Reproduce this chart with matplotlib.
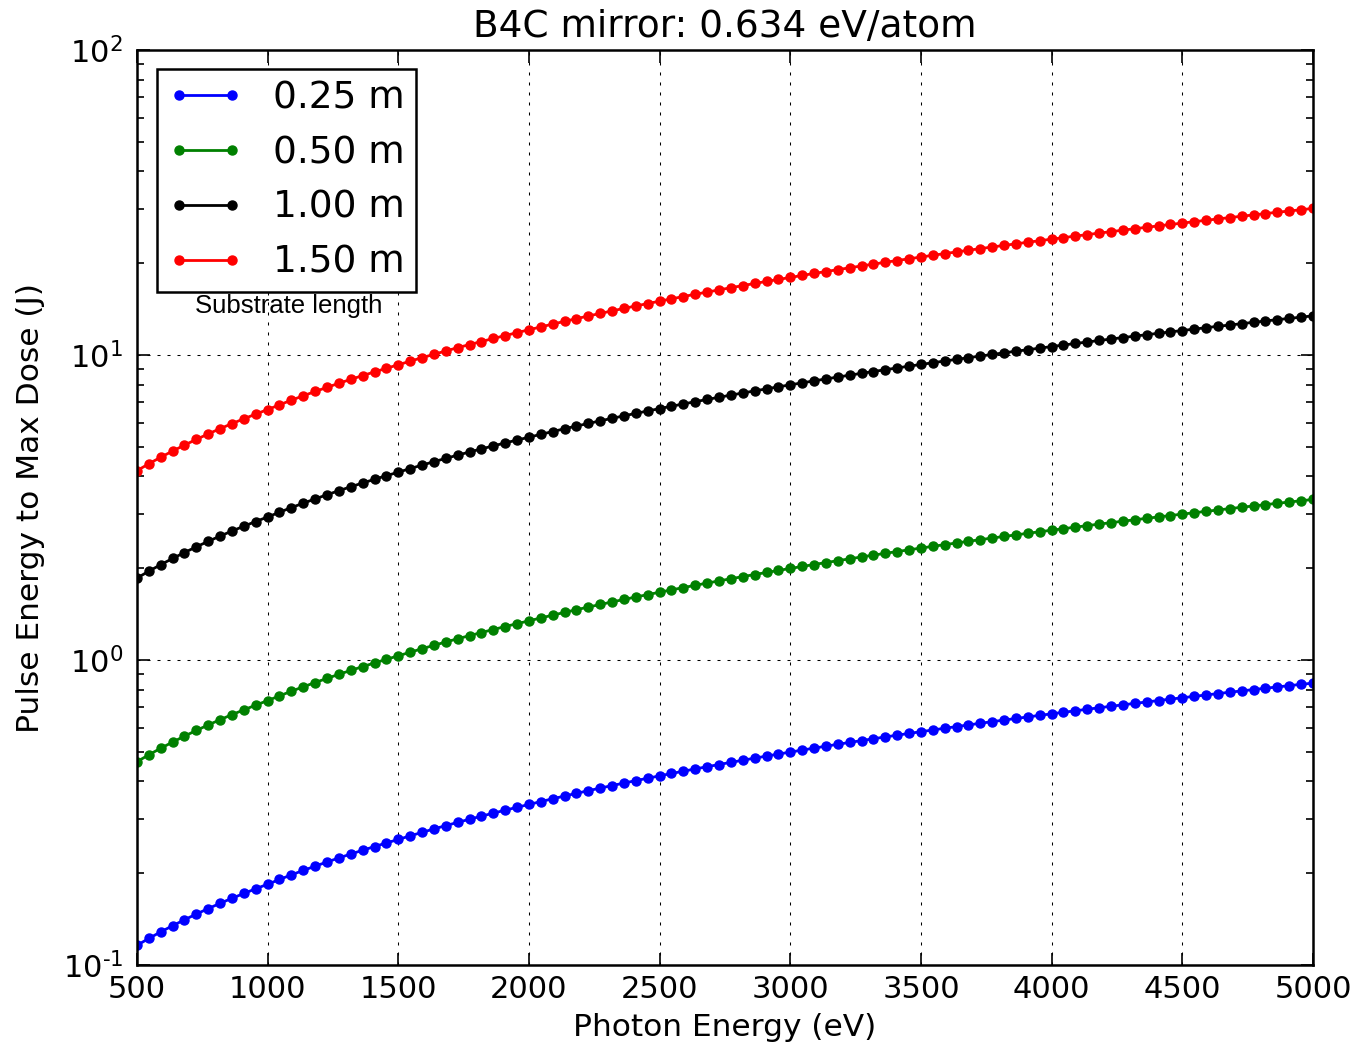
import numpy as np
import matplotlib
matplotlib.use("Agg")
import matplotlib.pyplot as plt
from matplotlib.ticker import FuncFormatter

plt.rcParams['font.family'] = ['DejaVu Sans']
plt.rcParams['mathtext.default'] = 'regular'
plt.rcParams['axes.unicode_minus'] = False

# photon energy grid (eV), 100 samples from 500 to 5000
energy = np.linspace(500, 5000, 100)

# pulse energy to reach max dose (J) for each substrate length
pulse_025 = [
    0.1160, 0.1222, 0.1284, 0.1345, 0.1407, 0.1469, 0.1531, 0.1593, 0.1655, 0.1716,
    0.1778, 0.1840, 0.1907, 0.1975, 0.2042, 0.2109, 0.2176, 0.2244, 0.2311, 0.2378,
    0.2445, 0.2513, 0.2580, 0.2651, 0.2722, 0.2793, 0.2864, 0.2935, 0.3005, 0.3076,
    0.3147, 0.3218, 0.3289, 0.3360, 0.3434, 0.3507, 0.3581, 0.3655, 0.3728, 0.3802,
    0.3875, 0.3949, 0.4023, 0.4096, 0.4170, 0.4245, 0.4319, 0.4394, 0.4468, 0.4543,
    0.4617, 0.4692, 0.4766, 0.4841, 0.4915, 0.4990, 0.5065, 0.5141, 0.5216, 0.5292,
    0.5367, 0.5443, 0.5518, 0.5594, 0.5669, 0.5745, 0.5820, 0.5896, 0.5973, 0.6049,
    0.6125, 0.6202, 0.6278, 0.6355, 0.6431, 0.6507, 0.6584, 0.6660, 0.6738, 0.6816,
    0.6895, 0.6973, 0.7051, 0.7129, 0.7207, 0.7285, 0.7364, 0.7442, 0.7520, 0.7600,
    0.7680, 0.7760, 0.7840, 0.7920, 0.8000, 0.8080, 0.8160, 0.8240, 0.8320, 0.8400]

pulse_050 = [
    0.4640, 0.4888, 0.5136, 0.5380, 0.5628, 0.5876, 0.6124, 0.6372, 0.6620, 0.6864,
    0.7112, 0.7360, 0.7628, 0.7900, 0.8168, 0.8436, 0.8704, 0.8976, 0.9244, 0.9512,
    0.9780, 1.0052, 1.0320, 1.0604, 1.0888, 1.1172, 1.1456, 1.1740, 1.2020, 1.2304,
    1.2588, 1.2872, 1.3156, 1.3440, 1.3736, 1.4028, 1.4324, 1.4620, 1.4912, 1.5208,
    1.5500, 1.5796, 1.6092, 1.6384, 1.6680, 1.6980, 1.7276, 1.7576, 1.7872, 1.8172,
    1.8468, 1.8768, 1.9064, 1.9364, 1.9660, 1.9960, 2.0260, 2.0564, 2.0864, 2.1168,
    2.1468, 2.1772, 2.2072, 2.2376, 2.2676, 2.2980, 2.3280, 2.3584, 2.3892, 2.4196,
    2.4500, 2.4808, 2.5112, 2.5420, 2.5724, 2.6028, 2.6336, 2.6640, 2.6952, 2.7264,
    2.7580, 2.7892, 2.8204, 2.8516, 2.8828, 2.9140, 2.9456, 2.9768, 3.0080, 3.0400,
    3.0720, 3.1040, 3.1360, 3.1680, 3.2000, 3.2320, 3.2640, 3.2960, 3.3280, 3.3600]

pulse_100 = [
    1.856, 1.955, 2.054, 2.152, 2.251, 2.350, 2.450, 2.549, 2.648, 2.746,
    2.845, 2.944, 3.051, 3.160, 3.267, 3.374, 3.482, 3.590, 3.698, 3.805,
    3.912, 4.021, 4.128, 4.242, 4.355, 4.469, 4.582, 4.696, 4.808, 4.922,
    5.035, 5.149, 5.262, 5.376, 5.494, 5.611, 5.730, 5.848, 5.965, 6.083,
    6.200, 6.318, 6.437, 6.554, 6.672, 6.792, 6.910, 7.030, 7.149, 7.269,
    7.387, 7.507, 7.626, 7.746, 7.864, 7.984, 8.104, 8.226, 8.346, 8.467,
    8.587, 8.709, 8.829, 8.950, 9.070, 9.192, 9.312, 9.434, 9.557, 9.678,
    9.800, 9.923, 10.04, 10.17, 10.29, 10.41, 10.53, 10.66, 10.78, 10.91,
    11.03, 11.16, 11.28, 11.41, 11.53, 11.66, 11.78, 11.91, 12.03, 12.16,
    12.29, 12.42, 12.54, 12.67, 12.80, 12.93, 13.06, 13.18, 13.31, 13.44]

pulse_150 = [
    4.176, 4.399, 4.622, 4.842, 5.065, 5.288, 5.512, 5.735, 5.958, 6.178,
    6.401, 6.624, 6.865, 7.110, 7.351, 7.592, 7.834, 8.078, 8.320, 8.561,
    8.802, 9.047, 9.288, 9.544, 9.799, 10.05, 10.31, 10.57, 10.82, 11.07,
    11.33, 11.58, 11.84, 12.10, 12.36, 12.63, 12.89, 13.16, 13.42, 13.69,
    13.95, 14.22, 14.48, 14.75, 15.01, 15.28, 15.55, 15.82, 16.08, 16.35,
    16.62, 16.89, 17.16, 17.43, 17.69, 17.96, 18.23, 18.51, 18.78, 19.05,
    19.32, 19.59, 19.86, 20.14, 20.41, 20.68, 20.95, 21.23, 21.50, 21.78,
    22.05, 22.33, 22.60, 22.88, 23.15, 23.43, 23.70, 23.98, 24.26, 24.54,
    24.82, 25.10, 25.38, 25.66, 25.95, 26.23, 26.51, 26.79, 27.07, 27.36,
    27.65, 27.94, 28.22, 28.51, 28.80, 29.09, 29.38, 29.66, 29.95, 30.24]

lengths = ['0.25 m', '0.50 m', '1.00 m', '1.50 m']
colors = ['b', 'g', 'k', 'r']
series = [pulse_025, pulse_050, pulse_100, pulse_150]

fig = plt.figure(figsize=(13.6, 10.42), dpi=100)
ax = fig.add_axes([0.1007, 0.0739, 0.8647, 0.8781])

for vals, lab, c in zip(series, lengths, colors):
    ax.semilogy(energy, vals, '-o', color=c, lw=2, ms=6.5, mec=c, label=lab)

ax.set_xlim(500, 5000)
ax.set_ylim(0.1, 100)
ax.set_xticks(np.arange(500, 5001, 500))


def decade(v, pos):
    # plain hyphen in the exponent, old-style
    return r'$10^{\text{%d}}$' % int(round(np.log10(v)))


ax.yaxis.set_major_formatter(FuncFormatter(decade))
ax.grid(True, which='major', color='k', linestyle=(0, (2.9, 6.7)), linewidth=0.75)

ax.tick_params(which='both', direction='in', top=True, right=True, labelsize=22)
ax.tick_params(which='major', length=9, width=1.2)
ax.tick_params(which='minor', length=5, width=1.2)
ax.tick_params(axis='x', pad=7)
ax.tick_params(axis='y', pad=10)
for sp in ax.spines.values():
    sp.set_linewidth(1.8)

ax.set_title('B4C mirror: 0.634 eV/atom', fontsize=27, y=1.0, pad=9.5)
ax.set_xlabel('Photon Energy (eV)', fontsize=22.5, labelpad=6.5)
ax.set_ylabel('Pulse Energy to Max Dose (J)', fontsize=22.5, labelpad=12.5)

leg = ax.legend(loc='upper left', bbox_to_anchor=(0.017, 0.979), borderaxespad=0,
                fontsize=27, numpoints=2, handlelength=2.0, handletextpad=0.8,
                labelspacing=0.5, borderpad=0.3, fancybox=False, framealpha=1)
leg.get_frame().set_edgecolor('k')
leg.get_frame().set_linewidth(1.8)

ax.text(0.129, 0.720, 'Substrate length', transform=ax.transAxes,
        ha='center', va='center', fontsize=18.5, family=['Liberation Sans'])

fig.savefig('out.png', dpi=100)
